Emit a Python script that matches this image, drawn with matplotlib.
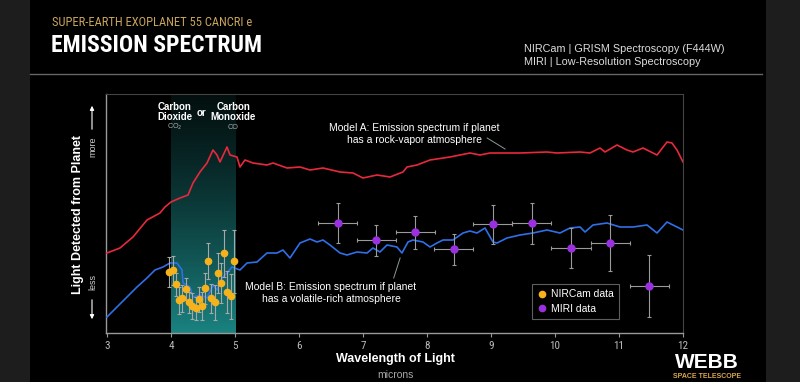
import numpy as np
import matplotlib
matplotlib.use("Agg")
import matplotlib.pyplot as plt
from matplotlib.lines import Line2D

# model A (rock-vapor) spectrum, wavelength [micron] vs relative light
model_a_x = [3.000, 3.203, 3.406, 3.625, 3.828, 3.906, 4.000, 4.141, 4.266, 4.344,
             4.453, 4.563, 4.656, 4.719, 4.766, 4.875, 4.922, 5.031, 5.078, 5.156,
             5.281, 5.500, 5.594, 5.813, 6.016, 6.172, 6.375, 6.641, 6.844, 7.000,
             7.219, 7.422, 7.625, 7.688, 7.844, 8.047, 8.359, 8.672, 8.828, 8.984,
             9.141, 9.453, 9.875, 10.031, 10.391, 10.547, 10.703, 10.781, 10.969, 11.125,
             11.219, 11.375, 11.594, 11.750, 11.828, 11.906, 12.000]
model_a_y = [80, 85, 96, 113, 120, 126, 131, 135, 138, 150,
             161, 170, 183, 178, 171, 186, 178, 176, 166, 173,
             170, 168, 170, 165, 166, 163, 165, 161, 160, 155,
             158, 156, 161, 166, 168, 173, 176, 180, 178, 180,
             180, 180, 181, 180, 181, 180, 185, 181, 188, 183,
             181, 185, 178, 191, 190, 183, 171]

# model B (volatile-rich) spectrum
model_b_x = [3.000, 3.156, 3.313, 3.469, 3.625, 3.750, 3.875, 3.984, 4.094, 4.172,
             4.188, 4.297, 4.344, 4.453, 4.563, 4.656, 4.719, 4.797, 4.875, 4.953,
             5.078, 5.188, 5.344, 5.500, 5.656, 5.750, 5.859, 6.016, 6.172, 6.281,
             6.375, 6.484, 6.641, 6.750, 6.906, 7.063, 7.156, 7.266, 7.375, 7.531,
             7.609, 7.703, 7.781, 7.938, 8.047, 8.156, 8.250, 8.406, 8.563, 8.672,
             8.781, 8.906, 9.031, 9.094, 9.250, 9.453, 9.656, 9.875, 10.078, 10.234,
             10.391, 10.469, 10.594, 10.813, 11.016, 11.219, 11.438, 11.594, 11.750, 11.844,
             12.000]
model_b_y = [16, 26, 36, 46, 55, 63, 66, 70, 70, 63,
             50, 46, 36, 38, 35, 48, 43, 55, 60, 66,
             63, 70, 71, 80, 80, 83, 75, 90, 94, 91,
             93, 88, 80, 78, 81, 80, 85, 81, 88, 86,
             80, 91, 93, 91, 86, 90, 93, 93, 100, 102,
             100, 105, 91, 90, 95, 98, 100, 103, 100, 105,
             106, 101, 108, 110, 106, 106, 108, 100, 111, 108,
             103]

# NIRCam data
nircam_x = [3.973, 4.027, 4.078, 4.130, 4.177, 4.230, 4.281, 4.333, 4.386, 4.433,
            4.480, 4.531, 4.578, 4.630, 4.683, 4.730, 4.781, 4.833, 4.880, 4.933, 4.980]
nircam_y = [61, 63, 49, 33, 35, 44, 31, 27, 25, 34,
            27, 45, 72, 35, 31, 60, 50, 80, 41, 37, 72]
nircam_err = [15, 14.5, 11.5, 13.5, 13.5, 11, 10.5, 13, 11.5, 12.5,
              14, 15.5, 18, 14.5, 17.5, 20, 20, 23.5, 21, 22.5, 31.5]

# MIRI data
miri_x = [6.605, 7.21, 7.82, 8.42, 9.03, 9.64, 10.25, 10.86, 11.47]
miri_y = [110, 93, 101, 84, 109, 110, 85, 90, 47]
miri_xerr = [0.305] * 9
miri_yerr = [20, 15.5, 16.5, 15.5, 19.5, 20.5, 20, 28, 31]

xticks = [3, 4, 5, 6, 7, 8, 9, 10, 11, 12]

narrow = ['Roboto Condensed', 'DejaVu Sans']
plain = ['Liberation Sans', 'DejaVu Sans']

fig = plt.figure(figsize=(8, 3.82), dpi=100)
fig.patch.set_facecolor('#1d1d1d')
# black panel
fig.add_artist(plt.Rectangle((30 / 800, 0), 736 / 800, 1, transform=fig.transFigure,
                             facecolor='black', edgecolor='none', zorder=0))
fig.add_artist(plt.Line2D([30 / 800, 762 / 800], [1 - 74 / 382] * 2, transform=fig.transFigure,
                          color='#666666', lw=1.0))

fig.text(52 / 800, 1 - 22 / 382, 'SUPER-EARTH EXOPLANET 55 CANCRI e', color='#c9a55c',
         fontsize=9, family=narrow, fontstretch='condensed', va='center', ha='left')
fig.text(51 / 800, 1 - 45 / 382, 'EMISSION SPECTRUM', color='white', fontsize=17,
         family=narrow, fontstretch='condensed', fontweight='bold', va='center', ha='left')
fig.text(524 / 800, 1 - 49 / 382, 'NIRCam | GRISM Spectroscopy (F444W)', color='#dddddd',
         fontsize=7.8, family=plain, va='center', ha='left')
fig.text(524 / 800, 1 - 62 / 382, 'MIRI | Low-Resolution Spectroscopy', color='#dddddd',
         fontsize=7.8, family=plain, va='center', ha='left')

ax = fig.add_axes([105.7 / 800, 49 / 382, 577.3 / 800, 239 / 382])
ax.set_facecolor('none')
ax.set_xlim(2.98, 12.0)
ax.set_ylim(0, 239)

# CO2 / CO band gradient, bright at the bottom, fading upwards
grad = np.zeros((100, 2, 4))
grad[..., 0] = 0.11
grad[..., 1] = 0.56
grad[..., 2] = 0.55
grad[..., 3] = (np.linspace(0.95, 0.25, 100) ** 1.6)[:, None]
ax.imshow(grad, extent=[4, 5, 0, 239], origin='lower', aspect='auto', zorder=1)

ax.plot(model_a_x, model_a_y, color='#e8283c', lw=1.2, zorder=3)
ax.plot(model_b_x, model_b_y, color='#2f6fe8', lw=1.2, zorder=3)

ax.errorbar(miri_x, miri_y, xerr=miri_xerr, yerr=miri_yerr, fmt='o', color='#9b30e0',
            ms=5, ecolor='#9a9a9a', elinewidth=0.8, capsize=1.5, capthick=0.8, zorder=5)
ax.errorbar(nircam_x, nircam_y, yerr=nircam_err, fmt='o', color='#f6b21a', ms=4.5,
            ecolor='#a8a8a8', elinewidth=0.8, capsize=1.5, capthick=0.8, zorder=5)

for s in ['top', 'right']:
    ax.spines[s].set_color('#444444')
    ax.spines[s].set_linewidth(0.8)
for s in ['left', 'bottom']:
    ax.spines[s].set_color('#999999')
    ax.spines[s].set_linewidth(1.0)

ax.set_yticks([])
ax.set_xticks(xticks)
ax.set_xticklabels([str(t) for t in xticks], family=narrow, fontstretch='condensed')
ax.tick_params(axis='x', colors='#999999', labelcolor='#bbbbbb', labelsize=8,
               length=3, width=0.8, pad=3)

# legend
handles = [Line2D([], [], ls='none', marker='o', ms=4.5, color='#f6b21a'),
           Line2D([], [], ls='none', marker='o', ms=4.5, color='#9b30e0')]
leg = ax.legend(handles, ['NIRCam data', 'MIRI data'], loc='lower left',
                bbox_to_anchor=(421 / 577.3, 9 / 239), frameon=True,
                handletextpad=0.3, borderpad=0.5, labelspacing=0.4, handlelength=1.0,
                prop={'family': plain, 'size': 7.5})
leg.get_frame().set_facecolor('black')
leg.get_frame().set_edgecolor('#777777')
leg.get_frame().set_linewidth(0.8)
leg.get_frame().set_boxstyle('square', pad=0.0)
for t in leg.get_texts():
    t.set_color('white')

# band labels
for xc, top, bot, chem in [(4.06, 'Carbon', 'Dioxide', 'CO$_2$'), (4.97, 'Carbon', 'Monoxide', 'CO')]:
    ax.text(xc, 226, top, color='white', fontsize=7, fontweight='bold',
            ha='center', va='center', family=plain)
    ax.text(xc, 215.5, bot, color='white', fontsize=7, fontweight='bold',
            ha='center', va='center', family=plain)
    ax.text(xc, 206, chem, color='#aaaaaa', fontsize=5.2, ha='center', va='center', family=plain)
ax.text(4.47, 220, 'or', color='white', fontsize=7, fontweight='bold', ha='center',
        va='center', family=plain)

# model annotations
ax.text(7.8, 199, 'Model A: Emission spectrum if planet\nhas a rock-vapor atmosphere',
        color='white', fontsize=7.5, ha='center', va='center', linespacing=1.3, family=plain)
ax.plot([8.94, 9.22], [195, 184], color='#8a9a9a', lw=0.7)
ax.text(6.5, 40, 'Model B: Emission spectrum if planet\nhas a volatile-rich atmosphere',
        color='white', fontsize=7.5, ha='center', va='center', linespacing=1.3, family=plain)
ax.plot([7.58, 7.48], [75, 55], color='#8a9a9a', lw=0.7)

# y label with arrows
fig.text(78 / 800, 1 - 215 / 382, 'Light Detected from Planet', color='white', fontsize=9,
         fontweight='bold', rotation=90, ha='center', va='center', family=plain)
fig.text(93 / 800, 1 - 147 / 382, 'more', color='#cccccc', fontsize=6.5, rotation=90,
         ha='center', va='center', family=plain)
fig.text(93 / 800, 1 - 282 / 382, 'less', color='#cccccc', fontsize=6.5, rotation=90,
         ha='center', va='center', family=plain)
fig.add_artist(matplotlib.patches.FancyArrowPatch(
    (92 / 800, 1 - 132 / 382), (92 / 800, 1 - 103 / 382), transform=fig.transFigure,
    arrowstyle='-|>', mutation_scale=6, color='white', lw=0.8))
fig.add_artist(matplotlib.patches.FancyArrowPatch(
    (92 / 800, 1 - 297 / 382), (92 / 800, 1 - 322 / 382), transform=fig.transFigure,
    arrowstyle='-|>', mutation_scale=6, color='white', lw=0.8))

# x label
fig.text(395 / 800, 1 - 359 / 382, 'Wavelength of Light', color='white', fontsize=9,
         fontweight='bold', ha='center', va='center', family=plain)
fig.text(395 / 800, 1 - 375 / 382, 'microns', color='#aaaaaa', fontsize=7.5,
         ha='center', va='center', family=plain)

# logo
fig.text(707 / 800, 1 - 362 / 382, 'WEBB', color='white', fontsize=15, fontweight='heavy',
         ha='center', va='center', family=plain)
fig.text(707 / 800, 1 - 376 / 382, 'SPACE TELESCOPE', color='#d9a84a', fontsize=5,
         fontweight='bold', ha='center', va='center', family=plain)

fig.savefig('out.png', dpi=100, facecolor=fig.get_facecolor())
